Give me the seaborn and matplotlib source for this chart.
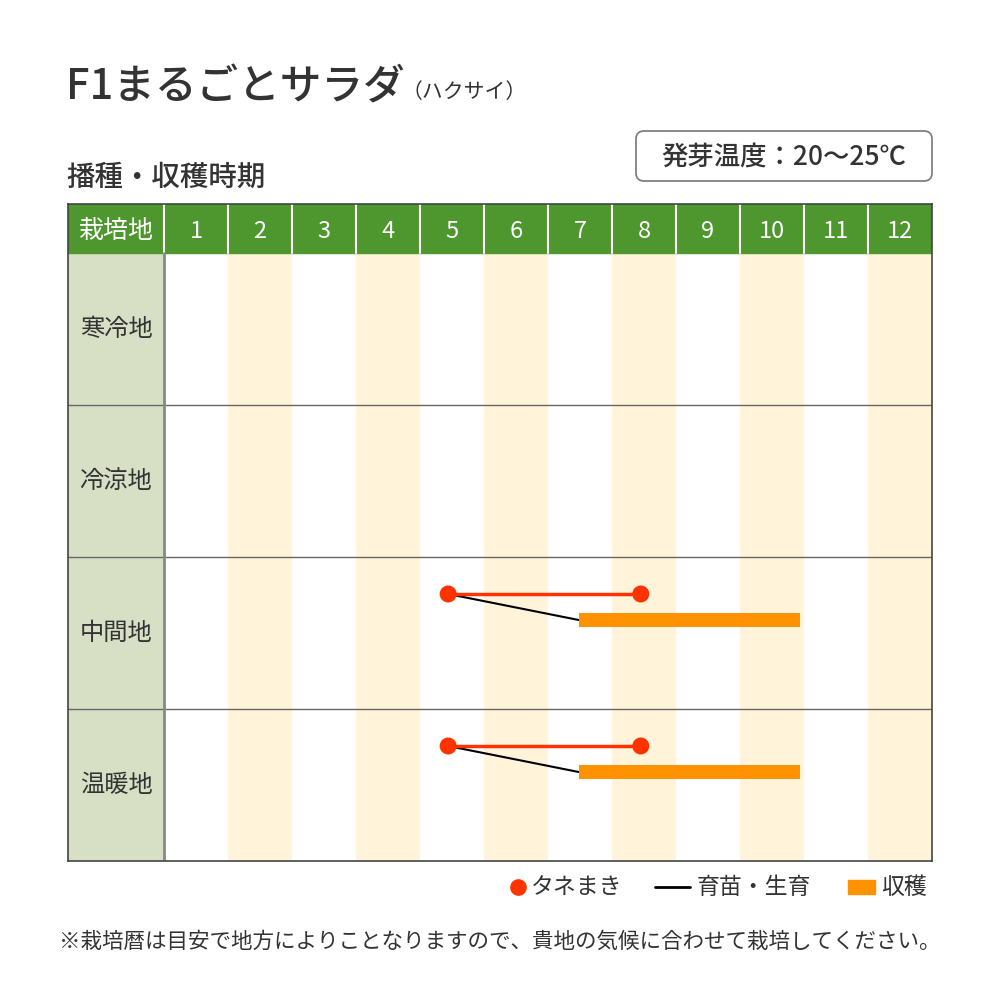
import numpy as np
import pandas as pd
import seaborn as sns
import matplotlib
matplotlib.use("Agg")
import matplotlib.pyplot as plt
from matplotlib.patches import Rectangle, FancyBboxPatch
from matplotlib.lines import Line2D

# ---------------- data ----------------
title = "F1まるごとサラダ"
title_sub = "（ハクサイ）"
subtitle = "播種・収穫時期"
germ_temp = "発芽温度：20～25℃"
header_label = "栽培地"
months = ["1", "2", "3", "4", "5", "6", "7", "8", "9", "10", "11", "12"]
regions = ["寒冷地", "冷涼地", "中間地", "温暖地"]
# positions in months (0 = start of January, 12 = end of December)
sow_start = [np.nan, np.nan, 4.44, 4.44]
sow_end = [np.nan, np.nan, 7.45, 7.45]
harvest_start = [np.nan, np.nan, 6.48, 6.48]
harvest_end = [np.nan, np.nan, 9.94, 9.94]
legend_labels = ["タネまき", "育苗・生育", "収穫"]
footnote = "※栽培暦は目安で地方によりことなりますので、貴地の気候に合わせて栽培してください。"

# ---------------- style ----------------
sns.set_theme(style="white")
plt.rcParams["font.family"] = ["Noto Sans CJK JP", "DejaVu Sans"]

C_GREEN = "#4E962E"
C_LABEL = "#D7DFC5"
C_STRIPE = "#FFF4D9"
C_RED = "#FF3300"
C_ORANGE = "#FF9200"
C_TEXT = "#333333"

fig = plt.figure(figsize=(10, 10), dpi=100)
fig.patch.set_facecolor("white")

# table axes in pixel fractions: x 68..932, y 204..861
hdr = 49 / 152.0
ax = fig.add_axes([0.068, 1 - 0.861, 0.864, 0.657])
ax.set_xlim(-1.5, 12)
ax.set_ylim(4, -hdr)
ax.set_xticks([])
ax.set_yticks([])
for s in ax.spines.values():
    s.set_color("#444444")
    s.set_linewidth(1.2)

df = pd.DataFrame({"region": regions, "sow_start": sow_start, "sow_end": sow_end,
                   "harvest_start": harvest_start, "harvest_end": harvest_end})
df["row"] = np.arange(len(regions))

# header
hy = -hdr / 2 + 0.018
ax.add_patch(Rectangle((-1.5, -hdr), 13.5, hdr, color=C_GREEN, zorder=1))
ax.text(-0.75, hy, header_label, color="white", fontsize=18, ha="center", va="center", zorder=3)
for i, m in enumerate(months):
    ax.text(i + 0.5, hy, m, color="white", fontsize=17, ha="center", va="center", zorder=3)
    ax.plot([i, i], [-hdr, 0], color="white", lw=1.5, zorder=2)

# label column & stripes
ax.add_patch(Rectangle((-1.5, 0), 1.5, 4, color=C_LABEL, zorder=0))
for i in range(len(months)):
    if i % 2 == 1:
        ax.add_patch(Rectangle((i, 0), 1, 4, color=C_STRIPE, zorder=0, lw=0))
for r, name in enumerate(regions):
    ax.text(-0.75, r + 0.5, name, color=C_TEXT, fontsize=17.5, ha="center", va="center", zorder=3)
for r in range(1, len(regions)):
    ax.plot([-1.5, 12], [r, r], color="#666666", lw=1.0, zorder=2)
ax.plot([0, 0], [0, 4], color="#888888", lw=2, zorder=2)

# marks
dot_off = 37 / 152.0
bar_off = 63 / 152.0
bar_h = 14 / 152.0
d = df.dropna()
for _, row in d.iterrows():
    r = row["row"]
    ax.plot([row["sow_start"], row["harvest_start"]], [r + dot_off, r + bar_off],
            color="black", lw=1.5, zorder=4)
    ax.plot([row["sow_start"], row["sow_end"]], [r + dot_off, r + dot_off],
            color=C_RED, lw=2.5, zorder=5)
    ax.barh(r + bar_off, row["harvest_end"] - row["harvest_start"], left=row["harvest_start"],
            height=bar_h, color=C_ORANGE, zorder=5, lw=0)
pts = pd.DataFrame({"x": list(d["sow_start"]) + list(d["sow_end"]),
                    "y": list(d["row"] + dot_off) * 2})
sns.scatterplot(data=pts, x="x", y="y", ax=ax, color=C_RED, s=150, edgecolor="none", zorder=6, legend=False)
ax.set_xlabel("")
ax.set_ylabel("")

# ---------------- texts ----------------
fig.text(0.066, 1 - 0.087, title, fontsize=30, color=C_TEXT, ha="left", va="center", fontweight="medium")
fig.text(0.402, 1 - 0.092, title_sub, fontsize=15, color=C_TEXT, ha="left", va="center")
fig.text(0.066, 1 - 0.177, subtitle, fontsize=20.5, color=C_TEXT, ha="left", va="center", fontweight="medium")

box = FancyBboxPatch((0.636, 1 - 0.181), 0.296, 0.05, boxstyle="round,pad=0,rounding_size=0.008",
                     transform=fig.transFigure, facecolor="white", edgecolor="#777777", lw=1.2)
fig.add_artist(box)
fig.text(0.784, 1 - 0.157, germ_temp, fontsize=19, color=C_TEXT, ha="center", va="center", fontweight="medium")

# legend
ly = 1 - 0.887
fig.add_artist(Line2D([0.518], [ly], marker="o", markersize=11, color=C_RED, lw=0,
                      transform=fig.transFigure))
fig.text(0.531, ly, legend_labels[0], fontsize=16.5, color=C_TEXT, ha="left", va="center")
fig.add_artist(Line2D([0.655, 0.690], [ly, ly], color="black", lw=2, transform=fig.transFigure))
fig.text(0.697, ly, legend_labels[1], fontsize=16.5, color=C_TEXT, ha="left", va="center")
fig.add_artist(Rectangle((0.848, ly - 0.007), 0.027, 0.014, color=C_ORANGE, transform=fig.transFigure))
fig.text(0.881, ly, legend_labels[2], fontsize=16.5, color=C_TEXT, ha="left", va="center")

fig.text(0.5, 1 - 0.942, footnote, fontsize=15.5, color=C_TEXT, ha="center", va="center")

fig.savefig("out.png", dpi=100, facecolor="white")
